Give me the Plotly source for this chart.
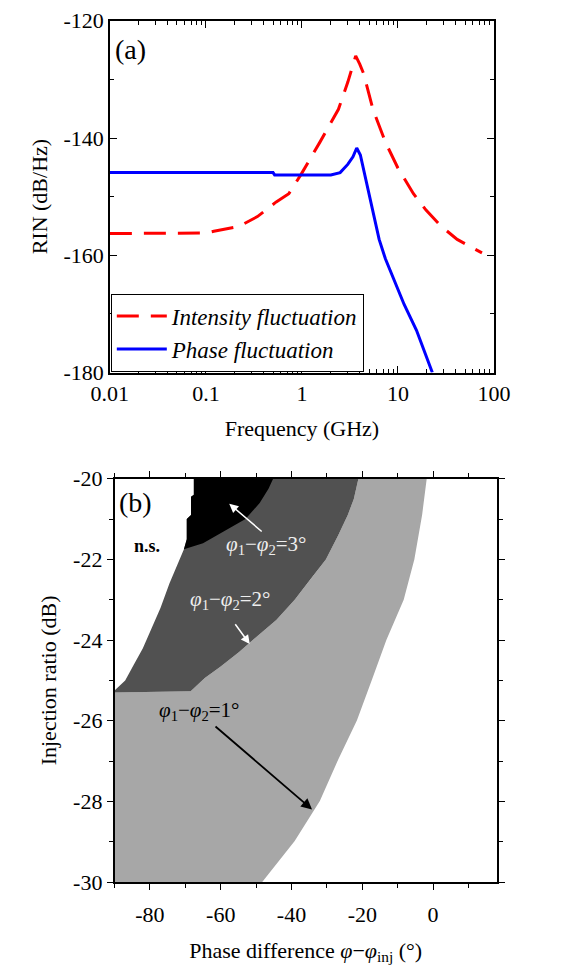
import plotly.graph_objects as go

# ---------------- Panel (a) data ----------------
freq_int = [0.01, 0.05, 0.1, 0.121, 0.22, 0.344, 0.54, 0.73, 0.98, 1.54, 2.4, 3.0, 3.63,
            4.0, 4.39, 5.49, 7.4, 9.98, 14.5, 19.6, 28.4, 41.4, 72.5, 75]
rin_int = [-156.3, -156.3, -156.2, -155.9, -155.1, -153.4, -150.9, -149.5, -146.2, -140.7,
           -135.1, -130.5, -126.0, -127.4, -129.0, -135.1, -140.7, -145.1, -149.5, -152.3,
           -155.1, -157.3, -159.5, -159.6]

freq_ph = [0.01, 0.5, 0.52, 2.0, 2.5, 3.0, 3.4, 3.72, 4.06, 4.72, 5.48, 6.37, 7.4, 9.27,
           11.6, 15.6, 22.8]
rin_ph = [-145.9, -145.9, -146.3, -146.3, -145.9, -144.5, -143.2, -141.7, -142.9, -147.9,
          -152.9, -157.3, -160.6, -164.5, -168.4, -172.8, -180.0]

x_a_ticks = [0.01, 0.1, 1, 10, 100]
x_a_labels = ["0.01", "0.1", "1", "10", "100"]
y_a_ticks = [-180, -160, -140, -120]
y_a_labels = ["-180", "-160", "-140", "-120"]

# ---------------- Panel (b) region boundaries ----------------
lr_x = [-1.8, -3.1, -5.3, -8.3, -13.2, -17.1, -21.5, -26.8, -32.0, -39.1, -48.3]
lr_y = [-20.0, -20.9, -22.0, -23.0, -24.0, -24.94, -25.99, -26.96, -27.99, -28.98, -30.0]
dl_x = [-21.1, -22.4, -24.1, -26.8, -30.3, -34.7, -39.1, -44.3, -49.6, -54.9, -60.1, -64.5, -68.5, -90.0]
dl_y = [-20.0, -20.5, -20.9, -21.4, -22.0, -22.5, -23.0, -23.5, -23.9, -24.3, -24.66, -24.94, -25.27, -25.3]
dw_x = [-90.0, -87.0, -84.5, -82.0, -79.5, -77.0, -74.5, -72.0, -70.4]
dw_y = [-25.25, -25.0, -24.6, -24.2, -23.7, -23.2, -22.6, -22.1, -21.75]
bl_x = [-70.4, -69.6, -69.6, -68.4, -68.4, -67.6, -67.6]
bl_y = [-21.75, -21.5, -21.0, -20.9, -20.45, -20.4, -20.0]
bb_x = [-70.4, -65.0, -59.0, -53.0, -49.0, -46.5, -45.2]
bb_y = [-21.75, -21.6, -21.3, -21.0, -20.6, -20.25, -20.0]

x_b_ticks = [-80, -60, -40, -20, 0]
x_b_labels = ["-80", "-60", "-40", "-20", "0"]
y_b_ticks = [-30, -28, -26, -24, -22, -20]
y_b_labels = ["-30", "-28", "-26", "-24", "-22", "-20"]

XMIN_B, XMAX_B = -90, 18
YMIN_B, YMAX_B = -30, -20

FONT = "Times New Roman, Liberation Serif, serif"

fig = go.Figure()

fig.add_trace(go.Scatter(x=freq_int, y=rin_int, mode="lines",
                         name="<i>Intensity fluctuation</i>",
                         line=dict(color="#ff0000", width=3, dash="22px,12px"),
                         xaxis="x", yaxis="y"))
fig.add_trace(go.Scatter(x=freq_ph, y=rin_ph, mode="lines",
                         name="<i>Phase fluctuation</i>",
                         line=dict(color="#0000ff", width=3),
                         xaxis="x", yaxis="y"))

light_x = [XMIN_B, lr_x[-1]] + lr_x[::-1] + dl_x
light_y = [YMIN_B, YMIN_B] + lr_y[::-1] + dl_y
dark_x = [bl_x[-1]] + dl_x + dw_x + bl_x
dark_y = [YMAX_B] + dl_y + dw_y + bl_y
black_x = bl_x + bb_x[::-1]
black_y = bl_y + bb_y[::-1]

for px, py, col in [(light_x, light_y, "#a7a7a7"), (dark_x, dark_y, "#515151"),
                    (black_x, black_y, "#000000")]:
    fig.add_trace(go.Scatter(x=px, y=py, mode="lines", fill="toself", fillcolor=col,
                             line=dict(width=0, color=col), showlegend=False,
                             hoverinfo="skip", xaxis="x2", yaxis="y2"))

axis_common = dict(showline=True, linecolor="black", linewidth=1.5, mirror="ticks",
                   showgrid=False, zeroline=False, tickcolor="black",
                   tickfont=dict(family=FONT, size=22, color="black"))
title_font = dict(family=FONT, size=22, color="black")

fig.update_layout(
    width=570, height=975,
    margin=dict(l=0, r=0, t=0, b=0),
    paper_bgcolor="white", plot_bgcolor="white",
    font=dict(family=FONT, color="black"),
    xaxis=dict(domain=[97/570, 507/570], anchor="y", type="log", range=[-2, 2],
               tickmode="array", tickvals=x_a_ticks, ticktext=x_a_labels,
               ticks="inside", ticklen=7, tickwidth=1.2,
               minor=dict(ticks="inside", ticklen=4, dtick="D1", tickcolor="black", tickwidth=1),
               title=dict(text="Frequency (GHz)", font=title_font, standoff=16),
               **axis_common),
    yaxis=dict(domain=[1-370/975, 1-9/975], anchor="x", range=[-180, -120],
               tickmode="array", tickvals=y_a_ticks, ticktext=y_a_labels,
               ticks="inside", ticklen=7, tickwidth=1.2,
               minor=dict(ticks="inside", ticklen=4, tickvals=[-170, -150, -130],
                          tickcolor="black", tickwidth=1),
               title=dict(text="RIN (dB/Hz)", font=title_font, standoff=10),
               **axis_common),
    xaxis2=dict(domain=[102/570, 510/570], anchor="y2", range=[XMIN_B, XMAX_B],
                tickmode="array", tickvals=x_b_ticks, ticktext=x_b_labels,
                ticks="outside", ticklen=6, tickwidth=1.2, ticklabelstandoff=6,
                minor=dict(ticks="outside", ticklen=4, tickvals=[-90, -70, -50, -30, -10, 10],
                           tickcolor="black", tickwidth=1),
                title=dict(text="Phase difference <i>φ</i>−<i>φ</i><sub>inj</sub> (°)",
                           font=title_font, standoff=16),
                **axis_common),
    yaxis2=dict(domain=[1-893/975, 1-479/975], anchor="x2", range=[YMIN_B, YMAX_B],
                tickmode="array", tickvals=y_b_ticks, ticktext=y_b_labels,
                ticks="outside", ticklen=6, tickwidth=1.2,
                minor=dict(ticks="outside", ticklen=4, tickvals=[-29, -27, -25, -23, -21],
                           tickcolor="black", tickwidth=1),
                title=dict(text="Injection ratio (dB)", font=title_font, standoff=10),
                **axis_common),
    legend=dict(x=98/570, y=1-369/975, xanchor="left", yanchor="bottom",
                bgcolor="white", bordercolor="black", borderwidth=1,
                font=dict(family=FONT, size=23, color="black"),
                tracegroupgap=0, itemwidth=50),
    showlegend=True,
)

sub = lambda d: f"<i>φ</i><sub>1</sub>−<i>φ</i><sub>2</sub>={d}°"

annotations = [
    dict(x=-1.79, y=-124.9, xref="x", yref="y", text="(a)", showarrow=False,
         font=dict(family=FONT, size=28, color="black")),
    dict(x=-84.1, y=-20.6, xref="x2", yref="y2", text="(b)", showarrow=False,
         font=dict(family=FONT, size=28, color="black")),
    dict(x=-80.8, y=-21.68, xref="x2", yref="y2", text="<b>n.s.</b>", showarrow=False,
         font=dict(family=FONT, size=18, color="black")),
    dict(x=-47.2, y=-21.64, xref="x2", yref="y2", text=sub(3), showarrow=False,
         font=dict(family=FONT, size=21, color="#eeeeee")),
    dict(x=-57.1, y=-23.0, xref="x2", yref="y2", text=sub(2), showarrow=False,
         font=dict(family=FONT, size=21, color="#eeeeee")),
    dict(x=-66.1, y=-25.75, xref="x2", yref="y2", text=sub(1), showarrow=False,
         font=dict(family=FONT, size=21, color="black")),
    dict(x=-57.6, y=-20.62, ax=-48.0, ay=-21.34, xref="x2", yref="y2", axref="x2", ayref="y2",
         text="", showarrow=True, arrowhead=2, arrowsize=1.2, arrowwidth=1.5, arrowcolor="white"),
    dict(x=-51.8, y=-24.1, ax=-56.2, ay=-23.57, xref="x2", yref="y2", axref="x2", ayref="y2",
         text="", showarrow=True, arrowhead=2, arrowsize=1.2, arrowwidth=1.5, arrowcolor="white"),
    dict(x=-34.2, y=-28.2, ax=-61.9, ay=-26.11, xref="x2", yref="y2", axref="x2", ayref="y2",
         text="", showarrow=True, arrowhead=2, arrowsize=1.2, arrowwidth=1.8, arrowcolor="black"),
]
fig.update_layout(annotations=annotations)

fig.write_html("out.html")
